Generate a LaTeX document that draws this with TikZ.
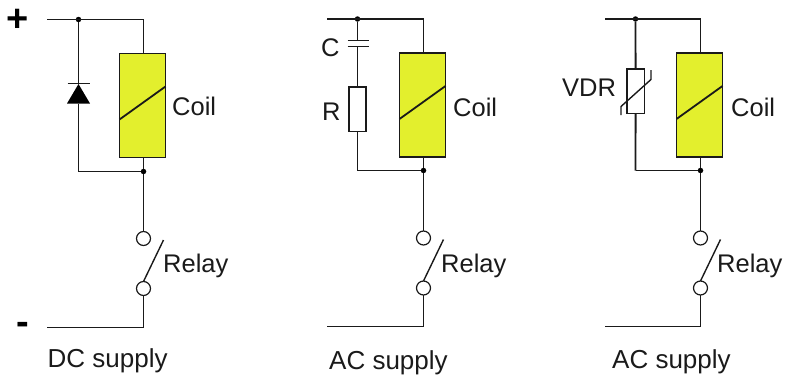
\documentclass[tikz,border=0pt]{standalone}
\usepackage{fontspec}
\setmainfont{Liberation Sans}
\definecolor{coilfill}{HTML}{E3EF2D}
\definecolor{ink}{HTML}{1A1A1A}
\tikzset{
  wire/.style={draw=ink,line width=1.8pt},
  coilbox/.style={draw=ink,line width=1.8pt,fill=coilfill,minimum width=46pt,minimum height=104pt,inner sep=0pt,outer sep=0pt},
  compbox/.style={draw=ink,line width=1.3pt,fill=white,inner sep=0pt,outer sep=0pt},
  junction/.style={circle,fill=black,inner sep=0pt,minimum size=5.5pt},
  contact/.style={circle,draw=ink,line width=1.2pt,fill=white,inner sep=0pt,minimum size=14pt,outer sep=0pt},
  lbl/.style={anchor=base west,inner sep=0pt,font=\fontsize{25.5}{25.5}\selectfont,text=ink},
  suplbl/.style={lbl,font=\fontsize{26}{26}\selectfont},
  sign/.style={anchor=base,inner sep=0pt,font=\bfseries\fontsize{38}{38}\selectfont,text=black},
}
% #1 prefix, #2 wire x, #3 y offset, #4 left x of supply, #5 branch x, #6 bottom wire y, #7 bottom rail y
\newcommand{\relaypart}[7]{%
  \coordinate (#1tl) at (#4,{19+#3});
  \coordinate (#1tr) at (#2,{19+#3});
  \node[junction] (#1jt) at (#5,{19+#3}) {};
  \node[coilbox] (#1coil) at ({#2-1},{105+#3}) {};
  \coordinate (#1bl) at (#5,#6);
  \node[junction] (#1jb) at (#2,#6) {};
  \node[contact] (#1c1) at (#2,{238+#3}) {};
  \node[contact] (#1c2) at (#2,{288+#3}) {};
  \coordinate (#1rl) at (#4,#7);
  \coordinate (#1rr) at (#2,#7);
  \coordinate (#1sw) at ({#2+20},{239.5+#3});
  \draw[wire] (#1tl) -- (#1tr) -- (#1coil.north -| #1tr);
  \draw[wire] (#1coil.south -| #1tr) -- (#1jb);
  \draw[wire] (#1jb) -- (#1bl);
  \draw[wire] (#1jb) -- (#1c1);
  \draw[wire] (#1c2) -- (#1rr) -- (#1rl);
  \draw[wire] ([yshift=-14pt]#1coil.west) -- ([yshift=19pt]#1coil.east);
  \draw[wire,line width=1.4pt] (#1c2.north) -- (#1sw);
}
\begin{document}
\begin{tikzpicture}[x=1pt,y=-1pt]
\useasboundingbox (0,0) rectangle (785,375);
\relaypart{a}{143.5}{0.5}{47}{78.5}{171.5}{327.5}
\relaypart{b}{423.5}{0}{327}{357.5}{170.5}{326.5}
\relaypart{c}{700.5}{0}{605}{635.5}{170.5}{326.5}

% DC: diode
\node[inner sep=0pt,outer sep=0pt] (dcath) at (78.5,84) {};
\node[inner sep=0pt,outer sep=0pt] (dan) at (78.5,103) {};
\coordinate (dcl) at (67.5,83.5);
\coordinate (dcr) at (89.5,83.5);
\draw[wire] (ajt) -- (dcath);
\draw[wire] (dan) -- (abl);
\draw[wire] (dcl) -- (dcr);
\fill[black] (dcath.center) -- (90,103.5) -- (67,103.5) -- cycle;

% AC: RC
\coordinate (cp1) at (357.5,40.5);
\coordinate (cp2) at (357.5,46.5);
\node[compbox,minimum width=17pt,minimum height=44.5pt] (rbox) at (357.5,109.2) {};
\draw[wire] (bjt) -- (cp1);
\draw[wire] (cp2) -- (rbox);
\draw[wire] (rbox) -- (bbl);
\draw[wire] (347.5,40.5) -- (369,40.5);
\draw[wire] (347.5,46.5) -- (369,46.5);

% AC: VDR
\node[compbox,minimum width=17.5pt,minimum height=44.5pt] (vbox) at (635.7,91.2) {};
\draw[wire] (cjt) -- (vbox);
\draw[wire] (vbox) -- (cbl);
\draw[draw=ink,line width=1.4pt] (621,115) -- (621,106.5) -- (651,79.5) -- (651,70);

% Labels
\node[lbl] (coila) at (172,115.5) {Coil};
\node[lbl] (coilb) at (453,116) {Coil};
\node[lbl] (coilc) at (731,116) {Coil};
\node[lbl] (rela) at (163,272.7) {Relay};
\node[lbl] (relb) at (441,272.7) {Relay};
\node[lbl] (relc) at (717,272.7) {Relay};
\node[suplbl] (supa) at (47.5,367) {DC supply};
\node[suplbl] (supb) at (329,369) {AC supply};
\node[suplbl] (supc) at (612,368) {AC supply};
\node[lbl] (lc) at (321,56.7) {C};
\node[lbl] (lr) at (322,120) {R};
\node[lbl] (lv) at (562,96) {VDR};
\node[sign] (plus) at (18,31) {+};
\node[sign] (minus) at (23,334) {-};
\end{tikzpicture}
\end{document}
